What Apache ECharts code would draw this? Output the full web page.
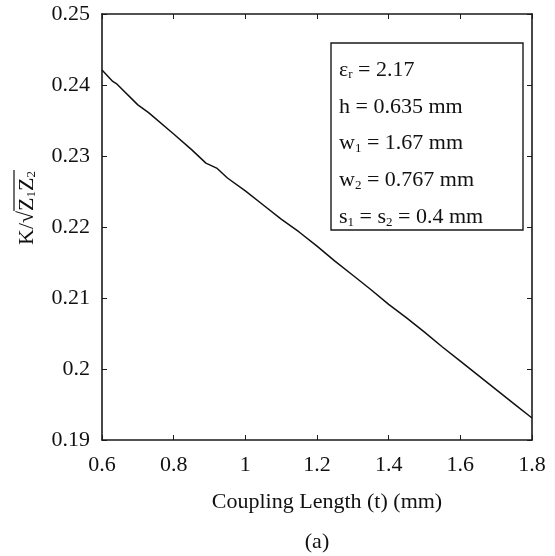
<!DOCTYPE html>
<html>
<head>
<meta charset="utf-8">
<script src="https://cdn.jsdelivr.net/npm/echarts@6/dist/echarts.min.js"></script>
<style>html,body{margin:0;padding:0;background:#fff;}#c{width:555px;height:556px;}</style>
</head>
<body>
<div id="c"></div>
<script>
const tValues = [0.60, 0.63, 0.64, 0.70, 0.73, 0.80, 0.85, 0.89, 0.92, 0.95, 1.00, 1.05, 1.10, 1.15, 1.20, 1.25, 1.30, 1.35, 1.40, 1.45, 1.50, 1.55, 1.60, 1.65, 1.70, 1.75, 1.80];
const kValues = [0.2421, 0.2405, 0.2402, 0.2372, 0.2361, 0.2331, 0.2309, 0.2290, 0.2283, 0.2269, 0.2251, 0.2231, 0.2211, 0.2193, 0.2173, 0.2152, 0.2132, 0.2112, 0.2091, 0.2072, 0.2052, 0.2031, 0.2011, 0.1991, 0.1971, 0.1951, 0.1931];
const xTicks = {min: 0.6, max: 1.8, interval: 0.2};
const yTicks = {min: 0.19, max: 0.25, interval: 0.01};
const xTitle = 'Coupling Length (t) (mm)';
const caption = '(a)';

const FONT = '"Liberation Serif", "Times New Roman", serif';
const FS = 22;
const AX = '#1a1a1a';
const chart = echarts.init(document.getElementById('c'), null, {renderer: 'canvas'});

const axisCommon = {
  axisLine: {show: true, lineStyle: {color: AX, width: 1.6}},
  axisTick: {show: true, inside: true, length: 5, lineStyle: {color: AX, width: 1}},
  splitLine: {show: false}
};

const legendLines = [
  '{n|ε}{s|r}{n| = 2.17}',
  '{n|h = 0.635 mm}',
  '{n|w}{s|1}{n| = 1.67 mm}',
  '{n|w}{s|2}{n| = 0.767 mm}',
  '{n|s}{s|1}{n| = s}{s|2}{n| = 0.4 mm}'
];
const richLeg = {
  n: {fontFamily: FONT, fontSize: FS, fill: '#111'},
  s: {fontFamily: FONT, fontSize: 13, fill: '#111', padding: [10, 0, 0, 0]}
};

const legendGraphics = legendLines.map((txt, i) => ({
  type: 'text', x: 339, y: 70 + i * 36.8,
  style: {text: txt, rich: richLeg, fontFamily: FONT, fontSize: FS, fill: '#111', verticalAlign: 'middle'}
}));

chart.setOption({
  animation: false,
  backgroundColor: '#fff',
  grid: {left: 102, right: 23, top: 14, bottom: 116},
  xAxis: [
    Object.assign({type: 'value', position: 'bottom', min: xTicks.min, max: xTicks.max, interval: xTicks.interval,
      axisLabel: {show: true, margin: 14, color: '#111', fontFamily: FONT, fontSize: FS}}, axisCommon),
    Object.assign({type: 'value', position: 'top', min: xTicks.min, max: xTicks.max, interval: xTicks.interval,
      axisLabel: {show: false}}, axisCommon)
  ],
  yAxis: [
    Object.assign({type: 'value', position: 'left', min: yTicks.min, max: yTicks.max, interval: yTicks.interval,
      axisLabel: {show: true, margin: 12, color: '#111', fontFamily: FONT, fontSize: FS}}, axisCommon),
    Object.assign({type: 'value', position: 'right', min: yTicks.min, max: yTicks.max, interval: yTicks.interval,
      axisLabel: {show: false}}, axisCommon)
  ],
  series: [{
    type: 'line',
    data: tValues.map((t, i) => [t, kValues[i]]),
    showSymbol: false,
    lineStyle: {color: '#111', width: 1.5},
    silent: true
  }],
  graphic: [
    {type: 'rect', shape: {x: 331, y: 43, width: 192, height: 187},
      style: {fill: '#fff', stroke: AX, lineWidth: 1.4}, z: 10},
    ...legendGraphics.map(g => Object.assign(g, {z: 11})),
    {type: 'text', x: 327, y: 502,
      style: {text: xTitle, fontFamily: FONT, fontSize: FS, fill: '#111', align: 'center', verticalAlign: 'middle'}},
    {type: 'text', x: 317, y: 542,
      style: {text: caption, fontFamily: FONT, fontSize: FS, fill: '#111', align: 'center', verticalAlign: 'middle'}},
    {type: 'group', x: 27, y: 208, rotation: Math.PI / 2, children: [
      {type: 'text', x: 0, y: 0,
        style: {text: '{n|K/√}{n|Z}{s|1}{n|Z}{s|2}', rich: richLeg, fontFamily: FONT, fontSize: FS, fill: '#111',
          align: 'center', verticalAlign: 'middle'}},
      {type: 'line', shape: {x1: -3, y1: -13, x2: 38, y2: -13}, style: {stroke: '#111', lineWidth: 1.2}}
    ]}
  ]
});
</script>
</body>
</html>
